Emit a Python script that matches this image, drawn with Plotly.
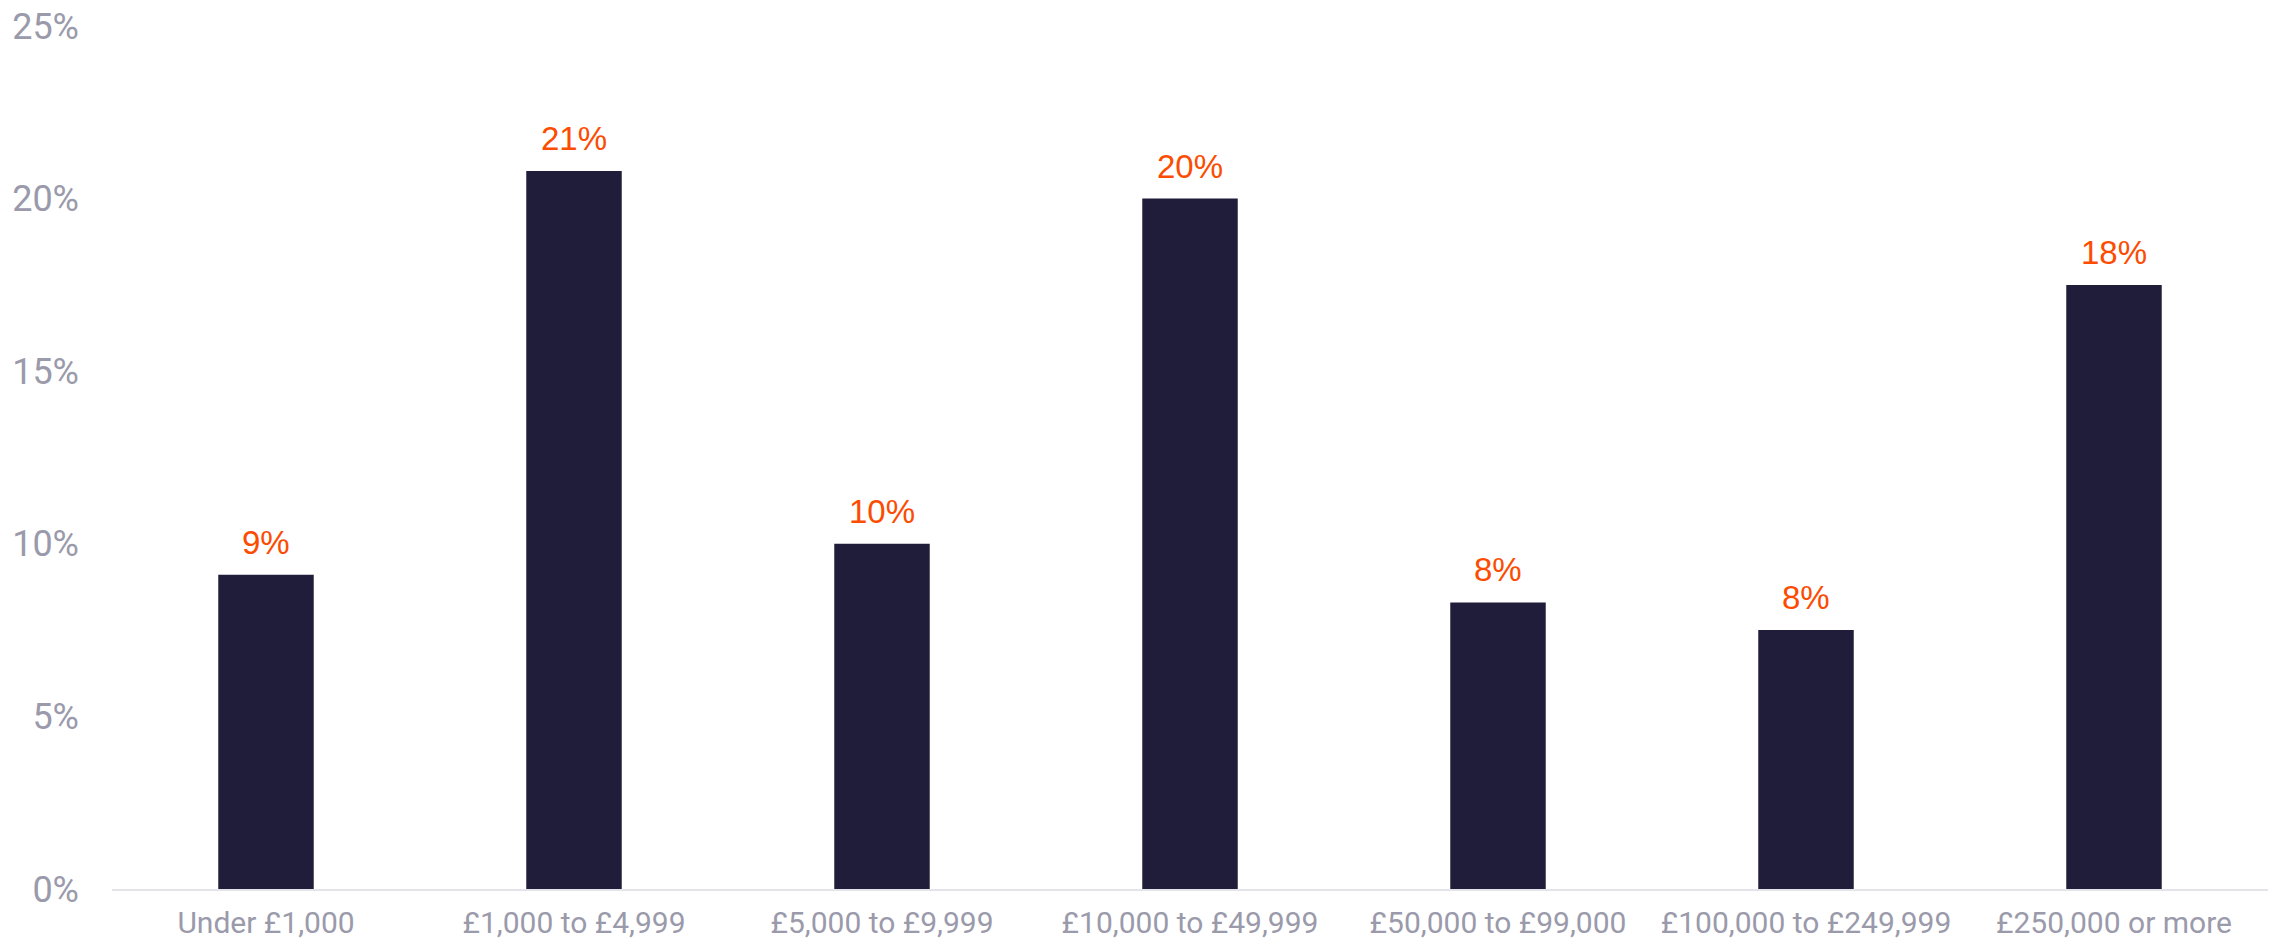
import plotly.graph_objects as go

categories = ["Under £1,000", "£1,000 to £4,999", "£5,000 to £9,999", "£10,000 to £49,999",
              "£50,000 to £99,000", "£100,000 to £249,999", "£250,000 or more"]
values = [9.1, 20.8, 10.0, 20.0, 8.3, 7.5, 17.5]
labels = ["9%", "21%", "10%", "20%", "8%", "8%", "18%"]
y_ticks = [0, 5, 10, 15, 20, 25]
y_ticklabels = ["0%", "5%", "10%", "15%", "20%", "25%"]

GRAY = "#9a9aab"
BAR = "#1f1d3a"
ORANGE = "#fc4c02"
TICKFONT = "Roboto, sans-serif"

fig = go.Figure()
fig.add_trace(go.Bar(x=categories, y=values, marker=dict(color=BAR, line=dict(width=0)),
                     hoverinfo="skip"))

for c, v, t in zip(categories, values, labels):
    fig.add_annotation(x=c, y=v, text=t, showarrow=False, yanchor="bottom", yshift=12,
                       font=dict(family="Liberation Sans, Arial, sans-serif", size=33, color=ORANGE))

fig.update_layout(
    width=2275, height=939,
    margin=dict(l=112, r=7, t=26, b=50),
    paper_bgcolor="white", plot_bgcolor="white",
    bargap=0.69, showlegend=False,
    xaxis=dict(showgrid=False, showline=True, linecolor="#e3e3ea", linewidth=2,
               ticks="", tickfont=dict(family=TICKFONT, size=30, color=GRAY),
               ticklabelstandoff=6, automargin=False),
    yaxis=dict(range=[0, 25], tickvals=y_ticks, ticktext=y_ticklabels, showgrid=False,
               zeroline=False, showline=False, ticks="",
               tickfont=dict(family=TICKFONT, size=36, color=GRAY),
               ticklabelstandoff=32, automargin=False),
)

fig.write_html("out.html")
